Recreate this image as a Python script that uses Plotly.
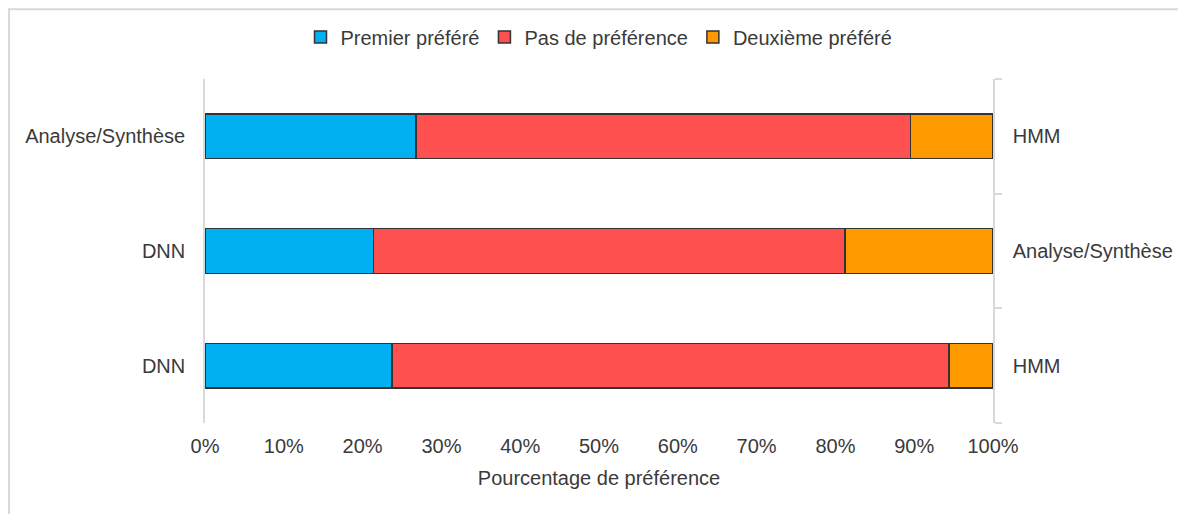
import plotly.graph_objects as go

left_systems = ["Analyse/Synthèse", "DNN", "DNN"]
right_systems = ["HMM", "Analyse/Synthèse", "HMM"]
premier = [26.8, 21.4, 23.7]
pas_pref = [62.7, 59.8, 70.7]
deuxieme = [10.5, 18.8, 5.6]
series_names = ["Premier préféré", "Pas de préférence", "Deuxième préféré"]
colors = ["#00B0F0", "#FF5050", "#FF9900"]
x_ticks = [0, 10, 20, 30, 40, 50, 60, 70, 80, 90, 100]
x_ticklabels = [f"{v}%" for v in x_ticks]

n = len(left_systems)
ypos = [n - 1 - i for i in range(n)]

FONT = "Liberation Sans, Arial, sans-serif"
TXT = "#3a3a3a"
FS = 20

fig = go.Figure()
for name, vals, col in zip(series_names, [premier, pas_pref, deuxieme], colors):
    fig.add_trace(go.Bar(
        y=ypos, x=vals, name=name, orientation="h",
        marker=dict(color=col, line=dict(color="#333333", width=1.5)),
    ))

# invisible trace to anchor the right axis
fig.add_trace(go.Scatter(x=[0], y=[0], yaxis="y2", mode="markers",
                         marker=dict(opacity=0), showlegend=False, hoverinfo="skip"))

fig.update_layout(
    width=1178, height=506,
    margin=dict(l=197, r=193, t=71, b=91, autoexpand=False),
    barmode="stack", bargap=0.61,
    plot_bgcolor="white", paper_bgcolor="white",
    font=dict(family=FONT, size=FS, color=TXT),
    legend=dict(orientation="h", x=0.5, xanchor="center", y=1.122, yanchor="middle",
                font=dict(size=FS, color=TXT), traceorder="normal",
                itemwidth=30),
    xaxis=dict(range=[0, 100], tickvals=x_ticks, ticktext=x_ticklabels, showgrid=False,
               zeroline=False, showline=False, ticks="outside", ticklen=5,
               tickcolor="rgba(0,0,0,0)",
               title=dict(text="Pourcentage de préférence", standoff=14,
                          font=dict(size=FS, color=TXT))),
    yaxis=dict(range=[-0.5, n - 0.5], tickvals=ypos, ticktext=left_systems,
               showgrid=False, zeroline=False, showline=True, linecolor="#d9d9d9",
               linewidth=1.5, ticks="outside", ticklen=14, tickcolor="rgba(0,0,0,0)"),
    yaxis2=dict(range=[-0.5, n - 0.5], overlaying="y", side="right",
                tickvals=ypos, ticktext=right_systems, showgrid=False, zeroline=False,
                showline=True, linecolor="#d9d9d9", linewidth=1.5,
                ticks="outside", ticklen=14, tickcolor="rgba(0,0,0,0)",
                minor=dict(tickvals=[-0.5, 0.5, 1.5, 2.5], ticks="outside", ticklen=7,
                           tickcolor="#d9d9d9", tickwidth=1.5, showgrid=False)),
    shapes=[dict(type="rect", xref="paper", yref="paper",
                 x0=-0.2487, x1=1.4, y0=-0.5, y1=1.203,
                 line=dict(color="#d9d9d9", width=2), layer="below")],
)

fig.write_html("out.html")
